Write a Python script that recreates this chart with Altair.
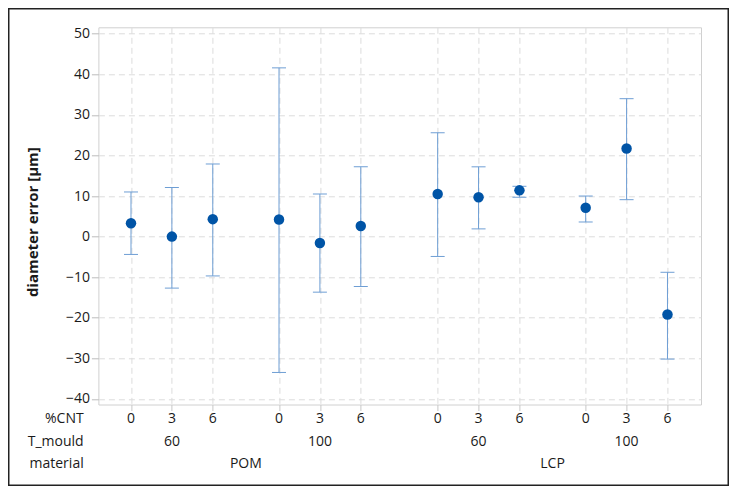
import altair as alt
import pandas as pd

# ---- data ----
material = ["POM", "POM", "POM", "POM", "POM", "POM",
            "LCP", "LCP", "LCP", "LCP", "LCP", "LCP"]
t_mould = [60, 60, 60, 100, 100, 100, 60, 60, 60, 100, 100, 100]
cnt = [0, 3, 6, 0, 3, 6, 0, 3, 6, 0, 3, 6]
mean = [3.3, 0.0, 4.3, 4.2, -1.6, 2.6, 10.5, 9.7, 11.4, 7.1, 21.7, -19.2]
lower = [-4.4, -12.7, -9.7, -33.5, -13.7, -12.3, -4.9, 1.9, 9.7, 3.6, 9.1, -30.2]
upper = [11.0, 12.1, 17.9, 41.6, 10.5, 17.2, 25.6, 17.2, 12.4, 10.0, 34.0, -8.8]
row_titles = ["%CNT", "T_mould", "material"]
y_ticks = [-40, -30, -20, -10, 0, 10, 20, 30, 40, 50]

df = pd.DataFrame({"material": material, "T_mould": t_mould, "cnt": cnt,
                   "mean": mean, "lower": lower, "upper": upper})

# layout of the nested categorical axis
T_GAP = 3.62
M_GAP = 7.5
pos_expr = (f"datum.cnt/3 + (datum.T_mould == 100 ? {T_GAP} : 0)"
            f" + (datum.material == 'LCP' ? {M_GAP} : 0)")
x_ticks = [c / 3 + (T_GAP if t == 100 else 0) + (M_GAP if m == "LCP" else 0)
           for c, t, m in zip(cnt, t_mould, material)]

W, H = 602.6, 377.2
PL, PT = 90.4, 19.3
PR = 721 - PL - W
PB = 478 - PT - H

FONT = "Open Sans"
TXT = "#1a1a1a"
PT_COL = "#0054A6"
BAR_COL = "#6E9ED4"

x_axis = alt.Axis(values=x_ticks, labels=False, ticks=True, tickSize=6,
                  tickColor="#C8C8C8", grid=True, gridColor="#DCDCDC",
                  gridDash=[6, 4], domain=False, title=None)
y_axis = alt.Axis(values=y_ticks, tickSize=7, tickColor="#BDBDBD",
                  labelPadding=2, grid=True, gridColor="#DCDCDC",
                  gridDash=[6, 4], domain=False,
                  titleX=-65.9, titleY=194.4, titleAngle=-90,
                  titleAlign="center", titleBaseline="middle",
                  titleFont=FONT, titleFontSize=15, titleFontWeight="bold",
                  titleColor=TXT)

x_scale = alt.Scale(domain=[-0.797, 13.94], nice=False, zero=False)
y_scale = alt.Scale(domain=[-41.4, 51.6], nice=False, zero=False)
YT = "diameter error [µm]"

X = alt.X("pos:Q", scale=x_scale, axis=x_axis)

base = alt.Chart(df).transform_calculate(pos=pos_expr)

frame = alt.Chart(alt.Data(values=[{"f": 1}])).mark_rect(
    filled=False, color="#222222", strokeWidth=1.5
).encode(x=alt.value(-PL + 0.75), x2=alt.value(W + PR - 0.75),
         y=alt.value(-PT + 0.75), y2=alt.value(H + PB - 0.75))

bars = base.mark_rule(color=BAR_COL, strokeWidth=1).encode(
    x=X,
    y=alt.Y("lower:Q", scale=y_scale, axis=y_axis, title=YT),
    y2="upper:Q",
)
cap_lo = base.mark_tick(orient="horizontal", size=14, thickness=1,
                        color=BAR_COL, opacity=1).encode(
    x=X, y=alt.Y("lower:Q", scale=y_scale, axis=y_axis, title=YT))
cap_hi = base.mark_tick(orient="horizontal", size=14, thickness=1,
                        color=BAR_COL, opacity=1).encode(
    x=X, y=alt.Y("upper:Q", scale=y_scale, axis=y_axis, title=YT))
pts = base.mark_circle(size=110, color=PT_COL, opacity=1).encode(
    x=X, y=alt.Y("mean:Q", scale=y_scale, axis=y_axis, title=YT))

cnt_lbl = base.mark_text(font=FONT, fontSize=14, color=TXT,
                         baseline="middle", align="center").encode(
    x=X, y=alt.value(392), text="cnt:N")
t_lbl = base.transform_aggregate(
    pos="mean(pos)", groupby=["material", "T_mould"]
).mark_text(font=FONT, fontSize=14, color=TXT, baseline="middle",
            align="center").encode(x=X, y=alt.value(414.4), text="T_mould:N")
m_lbl = base.transform_aggregate(
    pos="mean(pos)", groupby=["material"]
).mark_text(font=FONT, fontSize=14, color=TXT, baseline="middle",
            align="center").encode(x=X, y=alt.value(437), text="material:N")

row_y = [392, 414.4, 437]
heads = []
for t, yv in zip(row_titles, row_y):
    heads.append(
        alt.Chart(alt.Data(values=[{"t": t}])).mark_text(
            font=FONT, fontSize=14, color=TXT, baseline="middle", align="right"
        ).encode(x=alt.value(-14.7), y=alt.value(yv), text="t:N")
    )

chart = alt.layer(frame, bars, cap_lo, cap_hi, pts, cnt_lbl, t_lbl, m_lbl,
                  *heads).properties(
    width=W, height=H,
    autosize=alt.AutoSizeParams(type="none"),
    padding={"left": PL, "top": PT, "right": PR, "bottom": PB},
    background="white",
).configure_view(stroke="#D0D0D0", strokeWidth=1).configure_axis(
    labelFont=FONT, labelFontSize=14, labelColor=TXT
)

chart.save("out.html", embed_options={"renderer": "svg", "actions": False})
